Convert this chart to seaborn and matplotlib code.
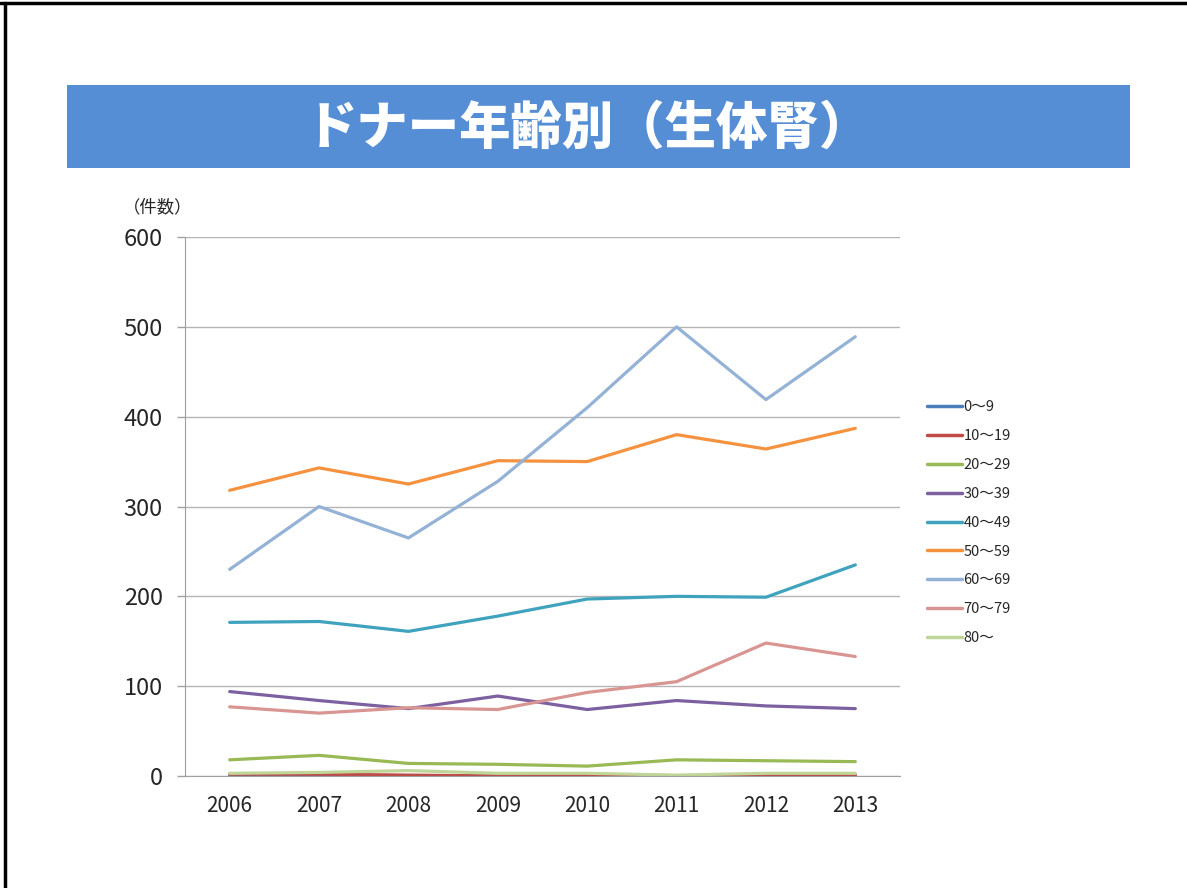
import pandas as pd
import matplotlib
matplotlib.use("Agg")
import matplotlib.pyplot as plt
from matplotlib.patches import Rectangle
from matplotlib.lines import Line2D
import seaborn as sns

sns.set_style("white")
plt.rcParams["font.family"] = ["Noto Sans CJK JP", "DejaVu Sans"]

years = [2006, 2007, 2008, 2009, 2010, 2011, 2012, 2013]
groups = ["0〜9", "10〜19", "20〜29", "30〜39", "40〜49", "50〜59", "60〜69", "70〜79", "80〜"]
counts = {
    "0〜9":   [0, 1, 0, 0, 0, 0, 0, 0],
    "10〜19": [2, 2, 1, 0, 1, 0, 1, 1],
    "20〜29": [18, 23, 14, 13, 11, 18, 17, 16],
    "30〜39": [94, 84, 75, 89, 74, 84, 78, 75],
    "40〜49": [171, 172, 161, 178, 197, 200, 199, 235],
    "50〜59": [318, 343, 325, 351, 350, 380, 364, 387],
    "60〜69": [230, 300, 265, 328, 410, 500, 419, 489],
    "70〜79": [77, 70, 76, 74, 93, 105, 148, 133],
    "80〜":   [3, 4, 6, 3, 3, 1, 3, 3],
}
colors = ["#4A7EBB", "#BE4B48", "#98B954", "#7D60A0", "#3FA3BE",
          "#F4923F", "#94B2D6", "#D99592", "#C0D598"]
palette = dict(zip(groups, colors))

df = pd.DataFrame([(g, y, v) for g in groups for y, v in zip(years, counts[g])],
                  columns=["group", "year", "count"])

fig = plt.figure(figsize=(11.87, 8.88), dpi=100)

# slide frame and title banner
fig.add_artist(Line2D([0.004, 0.004], [0, 0.997], transform=fig.transFigure, color="black", lw=2.5))
fig.add_artist(Line2D([0, 1], [0.997, 0.997], transform=fig.transFigure, color="black", lw=2.5))
fig.add_artist(Rectangle((67 / 1187, 1 - 168 / 888), (1130 - 67) / 1187, 83 / 888,
                         transform=fig.transFigure, facecolor="#558ED5", edgecolor="none"))
fig.text(588 / 1187, 1 - 128 / 888, "ドナー年齢別（生体腎）", color="white", fontsize=37,
         fontweight="heavy", ha="center", va="center")

ax = fig.add_axes([185 / 1187, 1 - 776 / 888, 715 / 1187, 539 / 888])
sns.lineplot(data=df, x="year", y="count", hue="group", hue_order=groups, palette=palette,
             linewidth=2.3, ax=ax, legend=False)

ax.set_xlim(2005.5, 2013.5)
ax.set_ylim(0, 600)
ax.set_xticks(years)
ax.set_xticks([y + 0.5 for y in [2005] + years], minor=True)
ax.set_yticks(range(0, 601, 100))
ax.tick_params(axis="x", which="major", length=0, labelsize=15, pad=14)
ax.tick_params(axis="x", which="minor", length=6, color="#A0A0A0", width=1)
ax.tick_params(axis="y", length=6, color="#A0A0A0", width=1, labelsize=17, pad=10, left=True)
ax.grid(axis="y", color="#B4B4B4", linewidth=1)
for s in ["top", "right"]:
    ax.spines[s].set_visible(False)
ax.spines["left"].set_color("#A0A0A0")
ax.spines["bottom"].set_color("#A0A0A0")
ax.set_xlabel("")
ax.set_ylabel("")
ax.set_axisbelow(True)

fig.text(158 / 1187, 1 - 207 / 888, "（件数）", fontsize=12.5, ha="center", va="center")

handles = [Line2D([], [], color=palette[g], lw=2.5) for g in groups]
fig.legend(handles, groups, loc="upper left", bbox_to_anchor=(914 / 1187, 1 - 387 / 888),
           frameon=False, fontsize=10.5, handlelength=2.4, handletextpad=0.1, labelspacing=1.02)

fig.savefig("out.png", dpi=100)
